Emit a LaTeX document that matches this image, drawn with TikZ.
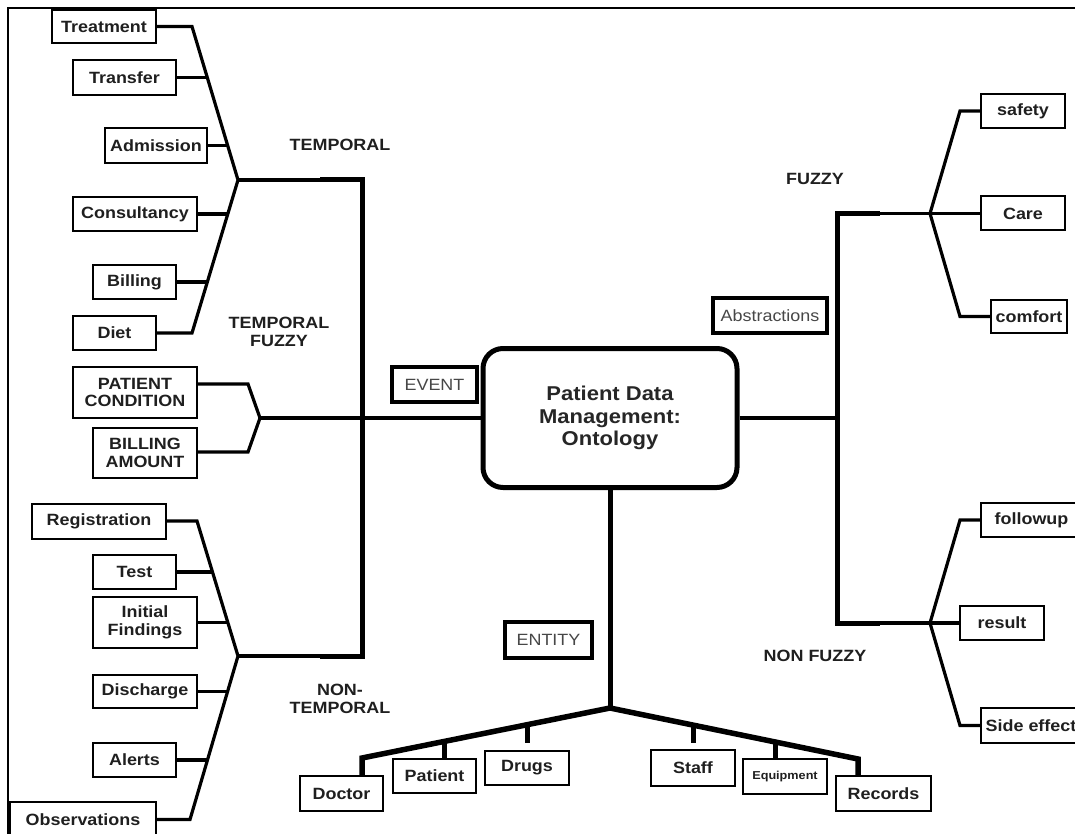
\documentclass[tikz,border=0pt]{standalone}
\usepackage{fontspec}
\setmainfont{Liberation Sans}[FakeStretch=1.1]
\begin{document}
\begin{tikzpicture}[x=1pt,y=-1pt,
  line cap=butt,
  sz/.style 2 args={minimum width=#1pt, minimum height=#2pt},
  leaf/.style={draw, line width=2pt, inner sep=0pt, align=center, text=black!88,
    font=\bfseries\fontsize{16.3}{17.5}\selectfont},
  tag/.style={draw, line width=3.5pt, inner sep=0pt, text=black!72,
    font=\fontsize{16.3}{17.5}\selectfont},
  cat/.style={inner sep=0pt, align=center, text=black!88,
    font=\bfseries\fontsize{16.3}{17.5}\selectfont},
  core/.style={draw, line width=5pt, rounded corners=20pt, inner sep=0pt, align=center,
    text=black!85, font=\bfseries\fontsize{20}{22.5}\selectfont},
  branch/.style={line width=3.2pt, line join=miter},
  trunk/.style={line width=5pt, line join=miter},
  twig/.style={line width=5.5pt, line join=miter}
]
\useasboundingbox (0,0) rectangle (1075,834);
\clip (0,0) rectangle (1075,834);
\fill[white] (0,0) rectangle (1075,834);

% outer frame
\draw[line width=1.5pt] (8,840) -- (8,8) -- (1080,8);

% ---------- central concept ----------
\node[core, sz={254}{139}] (core) at (610,418) {Patient Data\\Management:\\Ontology};
\node[tag, sz={85}{35}] (event) at (434.5,384.5) {EVENT};
\node[tag, sz={114}{35}] (abstr) at (770,315.5) {Abstractions};
\node[tag, sz={87}{36}] (entity) at (548.5,640) {ENTITY};

% ---------- category labels ----------
\node[cat] (ltemp) at (340,145) {TEMPORAL};
\node[cat] (ltfz) at (279,332) {TEMPORAL\\FUZZY};
\node[cat] (lntemp) at (340,699) {NON-\\TEMPORAL};
\node[cat] (lfz) at (815,178.5) {FUZZY};
\node[cat] (lnfz) at (815,656) {NON FUZZY};

% ---------- temporal events ----------
\node[leaf, sz={104}{33}] (treat) at (104,26.5) {Treatment};
\node[leaf, sz={103}{35}] (transf) at (124.5,77.5) {Transfer};
\node[leaf, sz={102}{35}] (admis) at (156,145.5) {Admission};
\node[leaf, sz={124}{34}] (consul) at (135,214) {Consultancy};
\node[leaf, sz={83}{34}] (bill) at (134.5,282) {Billing};
\node[leaf, sz={83}{34}] (diet) at (114.5,333) {Diet};

% ---------- temporal fuzzy events ----------
\node[leaf, sz={124}{51}] (pcond) at (135,392.5) {PATIENT\\CONDITION};
\node[leaf, sz={104}{50}] (bamt) at (145,453) {BILLING\\AMOUNT};

% ---------- non-temporal events ----------
\node[leaf, sz={134}{35}] (regis) at (99,521) {Registration};
\node[leaf, sz={83}{34}] (test) at (134.5,572) {Test};
\node[leaf, sz={104}{51}] (initf) at (145,622.5) {Initial\\Findings};
\node[leaf, sz={104}{33}] (disch) at (145,691.5) {Discharge};
\node[leaf, sz={83}{34}] (alerts) at (134.5,760) {Alerts};
\node[leaf, sz={146}{35}] (obs) at (83,819.5) {Observations};

% ---------- abstractions ----------
\node[leaf, sz={84}{34}] (safety) at (1023,111) {safety};
\node[leaf, sz={84}{34}] (care) at (1023,213.5) {Care};
\node[leaf, sz={76}{33}] (comfort) at (1029,316.5) {comfort};
\node[leaf, sz={101}{34}] (follow) at (1031.5,520) {followup};
\node[leaf, sz={84}{34}] (result) at (1002,623) {result};
\node[leaf, sz={100}{35}] (side) at (1031,725.5) {Side effect};

% ---------- entities ----------
\node[leaf, sz={83}{35}] (doctor) at (341.5,793.5) {Doctor};
\node[leaf, sz={83}{34}] (patient) at (434.5,776) {Patient};
\node[leaf, sz={84}{34}] (drugs) at (527,768) {Drugs};
\node[leaf, sz={84}{36}] (staff) at (693,768) {Staff};
\node[leaf, sz={84}{35}, font=\bfseries\fontsize{11.5}{13}\selectfont] (equip) at (785,776.5) {Equipment};
\node[leaf, sz={95}{35}] (records) at (883.5,793.5) {Records};

% ---------- junction and bend points ----------
\coordinate (jT) at (238,180);
\coordinate (tA) at (192,26.5);
\coordinate (tB) at (207.3,77.5);
\coordinate (tC) at (227.7,145.5);
\coordinate (tD) at (227.8,214);
\coordinate (tE) at (207.3,282);
\coordinate (tF) at (192,333);
\coordinate (cT) at (362,180);
\coordinate (kT) at (320,180);

\coordinate (jB) at (260,418);
\coordinate (bA) at (248,384);
\coordinate (bB) at (248,452);

\coordinate (jN) at (238,656);
\coordinate (nA) at (197,521);
\coordinate (nB) at (212.5,572);
\coordinate (nC) at (227.8,622.5);
\coordinate (nD) at (227.5,691.5);
\coordinate (nE) at (207.4,760);
\coordinate (nF) at (190,819.5);
\coordinate (cN) at (362,656);
\coordinate (kN) at (320,656);

\coordinate (rMid) at (837,418);
\coordinate (cF) at (837,213.5);
\coordinate (kF) at (880,213.5);
\coordinate (jF) at (930,213.5);
\coordinate (fA) at (960,111);
\coordinate (fC) at (960,316.5);
\coordinate (cNF) at (837,623);
\coordinate (kNF) at (880,623);
\coordinate (jNF) at (930,623);
\coordinate (gA) at (960,520);
\coordinate (gC) at (960,725.5);

\coordinate (jE) at (610,708);
\coordinate (eL) at (362,758);
\coordinate (eR) at (858,759);
\coordinate (sPat) at (444,741.5);
\coordinate (sDrg) at (527,724.7);
\coordinate (sDrgEnd) at (527,743);
\coordinate (sStf) at (693,725);
\coordinate (sStfEnd) at (693,743);
\coordinate (sEqp) at (775,742);

% ---------- temporal branch ----------
\draw[branch] (treat.east) -- (tA) -- (jT) -- (tF) -- (diet.east);
\draw[branch] (transf.east) -- (tB);
\draw[branch] (admis.east) -- (tC);
\draw[branch] (consul.east) -- (tD);
\draw[branch] (bill.east) -- (tE);
\draw[branch] (jT) -- (kT);

% ---------- non-temporal branch ----------
\draw[branch] (regis.east) -- (nA) -- (jN) -- (nF) -- (obs.east |- nF);
\draw[branch] (test.east) -- (nB);
\draw[branch] (initf.east) -- (nC);
\draw[branch] (disch.east) -- (nD);
\draw[branch] (alerts.east) -- (nE);
\draw[branch] (jN) -- (kN);

% event trunk
\draw[trunk] (kT) -- (cT) -- (cN) -- (kN);

% ---------- temporal fuzzy bracket ----------
\draw[branch] (pcond.east |- bA) -- (bA) -- (jB) -- (bB) -- (bamt.east |- bB);
\draw[line width=4pt] (jB) -- (core.west);

% ---------- abstractions ----------
\draw[line width=4pt] (core.east) -- (rMid);
\draw[trunk] (kF) -- (cF) -- (cNF) -- (kNF);
\draw[branch] (kF) -- (jF) -- (care.west);
\draw[branch] (safety.west) -- (fA) -- (jF) -- (fC) -- (comfort.west);
\draw[branch] (kNF) -- (jNF) -- (result.west);
\draw[branch] (follow.west) -- (gA) -- (jNF) -- (gC) -- (side.west);

% ---------- entities ----------
\draw[trunk] (core.south) -- (jE);
\draw[twig] (eL |- doctor.north) -- (eL) -- (jE) -- (eR) -- (eR |- records.north);
\draw[trunk] (sPat) -- (sPat |- patient.north);
\draw[trunk] (sDrg) -- (sDrgEnd);
\draw[trunk] (sStf) -- (sStfEnd);
\draw[trunk] (sEqp) -- (sEqp |- equip.north);
\end{tikzpicture}
\end{document}
